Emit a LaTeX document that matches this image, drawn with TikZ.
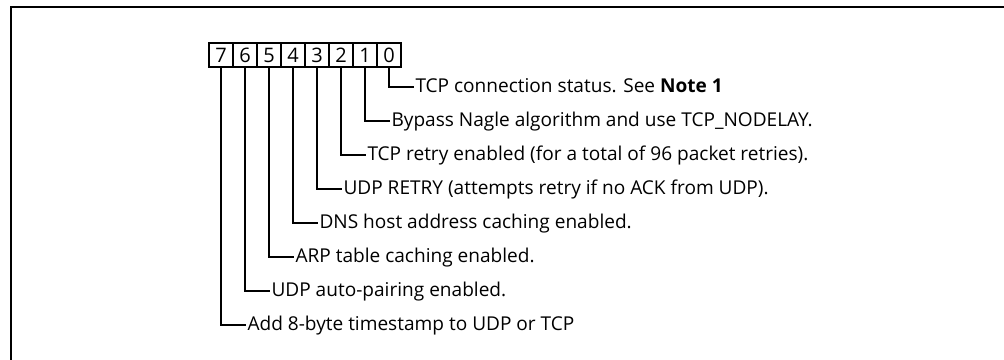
\documentclass[tikz,border=0pt]{standalone}
\usepackage{fontspec}
\setmainfont{Open Sans}
\usetikzlibrary{positioning}

\tikzset{
  bitcell/.style={draw,minimum width=18pt,minimum height=18pt,inner sep=0pt,
    font=\fontsize{15}{18}\selectfont},
  bitlabel/.style={anchor=west,inner sep=0.75pt,text height=7.8pt,text depth=0pt,
    font=\fontsize{14.3}{17}\selectfont}
}

\begin{document}
\begin{tikzpicture}[x=0.75pt,y=-0.75pt,line width=0.8pt]

        \useasboundingbox (0,0) rectangle (1004,360);
        \draw[line width=1.75pt] (11,360) |- (1004,7);

        \begin{scope}[every node/.style={bitcell}]
          \node (b7) at (221,55) {7};
          \node (b6) at (245,55) {6};
          \node (b5) at (269,55) {5};
          \node (b4) at (293,55) {4};
          \node (b3) at (317,55) {3};
          \node (b2) at (341,55) {2};
          \node (b1) at (365,55) {1};
          \node (b0) at (389,55) {0};
        \end{scope}

        \begin{scope}[every node/.style={bitlabel}]
          \node (l0) at (414,87)  {TCP connection status. See \textbf{Note 1}};
          \node (l1) at (390,121) {Bypass Nagle algorithm and use TCP\_NODELAY.};
          \node (l2) at (366,155) {TCP retry enabled (for a total of 96 packet retries).};
          \node (l3) at (342,189) {UDP RETRY (attempts retry if no ACK from UDP).};
          \node (l4) at (318,223) {DNS host address caching enabled.};
          \node (l5) at (294,257) {ARP table caching enabled.};
          \node (l6) at (270,291) {UDP auto-pairing enabled.};
          \node (l7) at (246,325) {Add 8-byte timestamp to UDP or TCP};
        \end{scope}

        \foreach \b in {0,...,7}
          \draw (b\b) |- (l\b);

\end{tikzpicture}
\end{document}
